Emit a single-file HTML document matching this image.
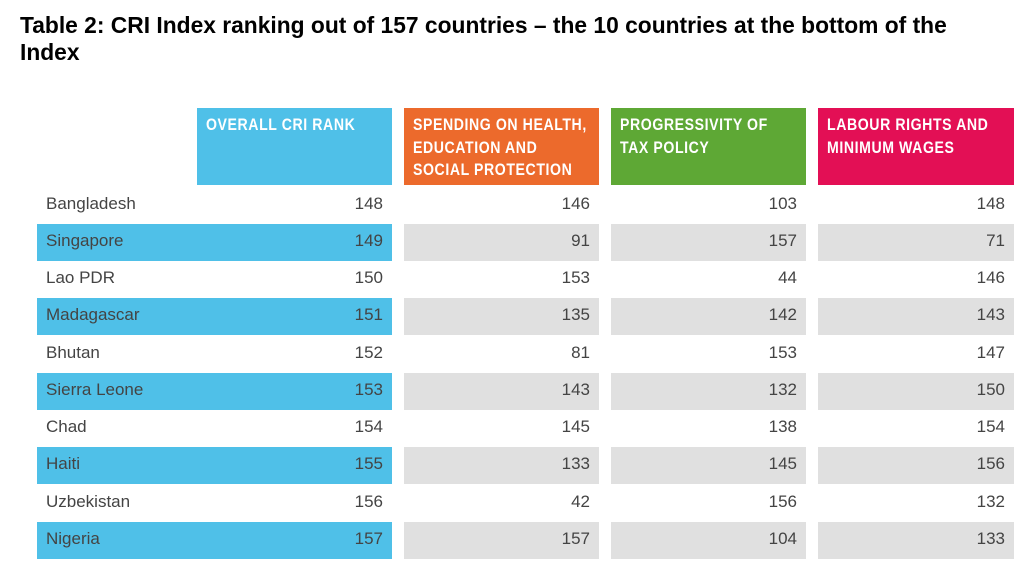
<!DOCTYPE html>
<html><head><meta charset="utf-8"><style>
body{margin:0;width:1031px;height:580px;background:#fff;font-family:"Liberation Sans",sans-serif;position:relative;overflow:hidden}
#title{position:absolute;left:20px;top:12px;font-weight:bold;font-size:22.8px;line-height:27px;color:#000;margin:0;white-space:nowrap}
.hdr{position:absolute;top:108px;height:77px;box-sizing:border-box}
.hdr span{position:absolute;left:9px;top:6px;color:#fff;font-weight:bold;font-size:17px;line-height:22.5px;white-space:nowrap;transform:scaleX(0.83);transform-origin:0 0;letter-spacing:0.7px}
.cell{position:absolute;height:37px;box-sizing:border-box;font-size:17px;line-height:34px;color:#444}
</style></head><body>
<h1 id="title">Table 2: CRI Index ranking out of 157 countries – the 10 countries at the bottom of the<br>Index</h1>
<div class="hdr" style="left:197px;width:195px;background:#4fc0e8"><span>OVERALL CRI RANK</span></div>
<div class="hdr" style="left:404px;width:195px;background:#ec6a2c"><span>SPENDING ON HEALTH,<br>EDUCATION AND<br>SOCIAL PROTECTION</span></div>
<div class="hdr" style="left:611px;width:195px;background:#5ea835"><span>PROGRESSIVITY OF<br>TAX POLICY</span></div>
<div class="hdr" style="left:818px;width:196px;background:#e30f55"><span>LABOUR RIGHTS AND<br>MINIMUM WAGES</span></div>
<div id="rows"></div>
<script>
const countries=["Bangladesh","Singapore","Lao PDR","Madagascar","Bhutan","Sierra Leone","Chad","Haiti","Uzbekistan","Nigeria"];
const overall=[148,149,150,151,152,153,154,155,156,157];
const spending=[146,91,153,135,81,143,145,133,42,157];
const tax=[103,157,44,142,153,132,138,145,156,104];
const labour=[148,71,146,143,147,150,154,156,132,133];
const root=document.getElementById('rows');
const top0=186,pitch=37.25;
function mk(left,width,top,bg,html,align,pad){
  const d=document.createElement('div');d.className='cell';
  d.style.left=left+'px';d.style.width=width+'px';d.style.top=top+'px';
  if(bg)d.style.background=bg;d.style.textAlign=align;
  d.style.padding=align==='left'?'0 0 0 '+pad+'px':'0 '+pad+'px 0 0';
  d.textContent=html;root.appendChild(d);return d;
}
countries.forEach((c,i)=>{
  const y=top0+i*pitch+0.5;const odd=i%2===1;
  const a=mk(37,200,y,odd?'#4fc0e8':null,c,'left',9);
  
  
  const b=mk(197,195,y,odd?'#4fc0e8':null,String(overall[i]),'right',9);
  
  
  const s=mk(404,195,y,odd?'#e0e0e0':null,String(spending[i]),'right',9);
  
  
  const t=mk(611,195,y,odd?'#e0e0e0':null,String(tax[i]),'right',9);
  
  
  const l=mk(818,196,y,odd?'#e0e0e0':null,String(labour[i]),'right',9);
  
  
});
</script>
</body></html>
